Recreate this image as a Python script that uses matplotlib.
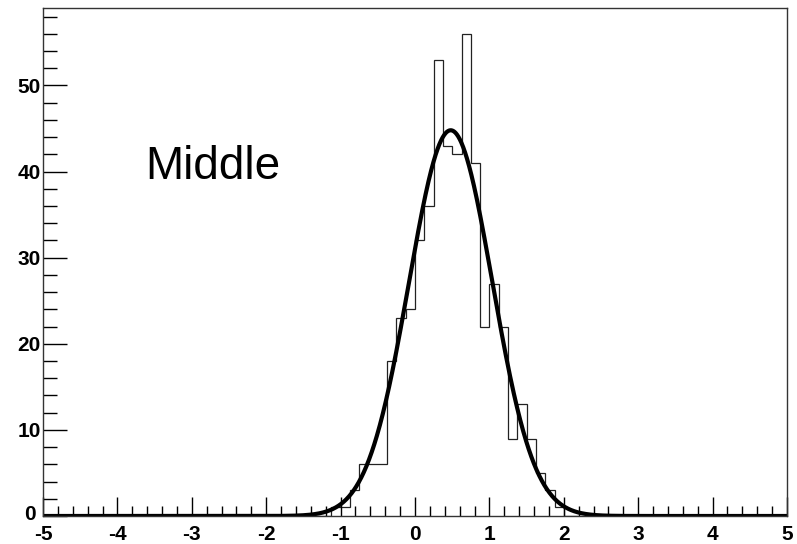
import numpy as np
import matplotlib
matplotlib.use("Agg")
import matplotlib.pyplot as plt
import matplotlib.transforms as mtransforms
from matplotlib.ticker import MultipleLocator

plt.rcParams["axes.unicode_minus"] = False

# ---- data ----
x_min, x_max, n_bins = -5.0, 5.0, 80
bin_left = [-1.125, -1.0, -0.875, -0.75, -0.625, -0.5, -0.375, -0.25, -0.125,
            0.0, 0.125, 0.25, 0.375, 0.5, 0.625, 0.75, 0.875, 1.0, 1.125,
            1.25, 1.375, 1.5, 1.625, 1.75, 1.875]
bin_counts = [1, 1, 3, 6, 6, 6, 18, 23, 24,
              32, 36, 53, 43, 42, 56, 41, 22, 27, 22,
              9, 13, 9, 5, 3, 1]
fit_amplitude = 44.8
fit_mean = 0.48
fit_sigma = 0.56
x_ticks = [-5, -4, -3, -2, -1, 0, 1, 2, 3, 4, 5]
x_tick_labels = ["-5", "-4", "-3", "-2", "-1", "0", "1", "2", "3", "4", "5"]
y_ticks = [0, 10, 20, 30, 40, 50]
y_tick_labels = ["0", "10", "20", "30", "40", "50"]
y_max = 59.0
label_text = "Middle"

# ---- build histogram ----
edges = np.linspace(x_min, x_max, n_bins + 1)
width = (x_max - x_min) / n_bins
counts = np.zeros(n_bins)
for left, c in zip(bin_left, bin_counts):
    idx = int(round((left - x_min) / width))
    counts[idx] = c

xs = np.linspace(x_min, x_max, 2000)
fit = fit_amplitude * np.exp(-0.5 * ((xs - fit_mean) / fit_sigma) ** 2)

fig = plt.figure(figsize=(7.97, 5.44), dpi=100)
W, H = 797, 544
ax = fig.add_axes([43 / W, 28 / H, (787 - 43) / W, (536 - 28) / H])

ax.stairs(counts, edges, color="#222222", linewidth=0.9, baseline=0)
ax.plot(xs, fit, color="black", linewidth=3.0, solid_capstyle="butt")

ax.set_xlim(x_min, x_max)
ax.set_ylim(0, y_max)

ax.set_xticks(x_ticks)
ax.set_xticklabels(x_tick_labels)
ax.set_yticks(y_ticks)
ax.set_yticklabels(y_tick_labels)
ax.xaxis.set_minor_locator(MultipleLocator(0.2))
ax.yaxis.set_minor_locator(MultipleLocator(2))

ax.tick_params(axis="x", which="major", direction="in", length=14, width=1,
               pad=6.5, labelsize=15, top=False)
ax.tick_params(axis="x", which="minor", direction="in", length=7, width=1, top=False)
ax.tick_params(axis="y", which="major", direction="in", length=17, width=1,
               pad=1.5, labelsize=15, right=False)
ax.tick_params(axis="y", which="minor", direction="in", length=10, width=1, right=False)

for lbl in ax.get_xticklabels() + ax.get_yticklabels():
    lbl.set_fontfamily("Liberation Sans")
    lbl.set_fontweight("bold")

# nudge the y "0" label left/up as in the reference so it clears "-5"
zero_lbl = ax.get_yticklabels()[0]
zero_lbl.set_transform(zero_lbl.get_transform() +
                       mtransforms.ScaledTranslation(-5 / 100, 3 / 100, fig.dpi_scale_trans))

for s in ax.spines.values():
    s.set_linewidth(1.0)
    s.set_color("#333333")

ax.text(145 / W, 1 - 179 / H, label_text, transform=fig.transFigure,
        fontsize=33, fontfamily="Liberation Sans", ha="left", va="baseline")

fig.savefig("out.png", dpi=100)
